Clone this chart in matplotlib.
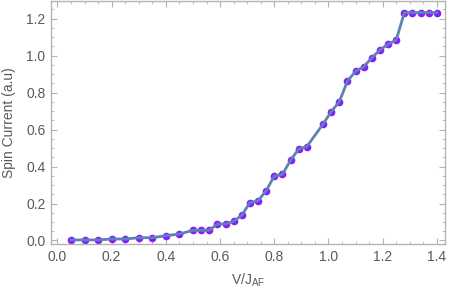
import numpy as np
import matplotlib
matplotlib.use("Agg")
import matplotlib.pyplot as plt
from matplotlib.ticker import MultipleLocator

# data
v_low = [0.05, 0.10, 0.15, 0.20, 0.25, 0.30, 0.35, 0.40, 0.45]
s_low = [0.003, 0.003, 0.003, 0.008, 0.008, 0.015, 0.015, 0.026, 0.035]

v_high = [0.50, 0.53, 0.56, 0.59, 0.62, 0.65, 0.68, 0.71, 0.74, 0.77,
          0.80, 0.83, 0.86, 0.89, 0.92, 0.98, 1.01, 1.04, 1.07, 1.10,
          1.13, 1.16, 1.19, 1.22, 1.25, 1.28, 1.31, 1.34, 1.37, 1.40]
s_high = [0.055, 0.055, 0.055, 0.089, 0.089, 0.104, 0.136, 0.205, 0.215, 0.269,
          0.349, 0.358, 0.434, 0.495, 0.508, 0.630, 0.697, 0.751, 0.862, 0.916,
          0.940, 0.989, 1.031, 1.062, 1.085, 1.233, 1.233, 1.233, 1.233, 1.233]

V = np.array(v_low + v_high)
S = np.array(s_low + s_high)

plt.rcParams['font.family'] = ['Liberation Sans', 'DejaVu Sans']
plt.rcParams['mathtext.fontset'] = 'custom'
plt.rcParams['mathtext.rm'] = 'Liberation Sans'

fig = plt.figure(figsize=(4.5, 2.92), dpi=100)
ax = fig.add_axes([0.1133, 0.1644, 0.8756, 0.8322])

frame_col = '#b4b4b4'
text_col = '#5a5a5a'

ax.plot(V, S, 'o', color='#8a1aff', markersize=5.5, markeredgewidth=0, zorder=2)
ax.plot(V, S, '-', color='#5e81b5', linewidth=2.0, zorder=3)

ax.set_xlim(-0.024, 1.43)
ax.set_ylim(-0.019, 1.296)

ax.xaxis.set_major_locator(MultipleLocator(0.2))
ax.xaxis.set_minor_locator(MultipleLocator(0.05))
ax.yaxis.set_major_locator(MultipleLocator(0.2))
ax.yaxis.set_minor_locator(MultipleLocator(0.05))
ax.xaxis.set_major_formatter(plt.FuncFormatter(lambda x, p: "%.1f" % x))
ax.yaxis.set_major_formatter(plt.FuncFormatter(lambda y, p: "%.1f" % y))

for sp in ax.spines.values():
    sp.set_color(frame_col)
    sp.set_linewidth(1.0)

ax.tick_params(which='both', direction='in', top=True, right=True,
               color=frame_col, labelcolor=text_col, labelsize=10)
ax.tick_params(which='major', length=4.5, width=0.8, pad=4)
ax.tick_params(which='minor', length=2.5, width=0.6)

ax.set_xlabel(r'V/J$_{\mathrm{AF}}$', color=text_col, fontsize=10, labelpad=6)
ax.set_ylabel('Spin Current (a.u)', color=text_col, fontsize=10, labelpad=7)

fig.savefig('out.png', dpi=100)
